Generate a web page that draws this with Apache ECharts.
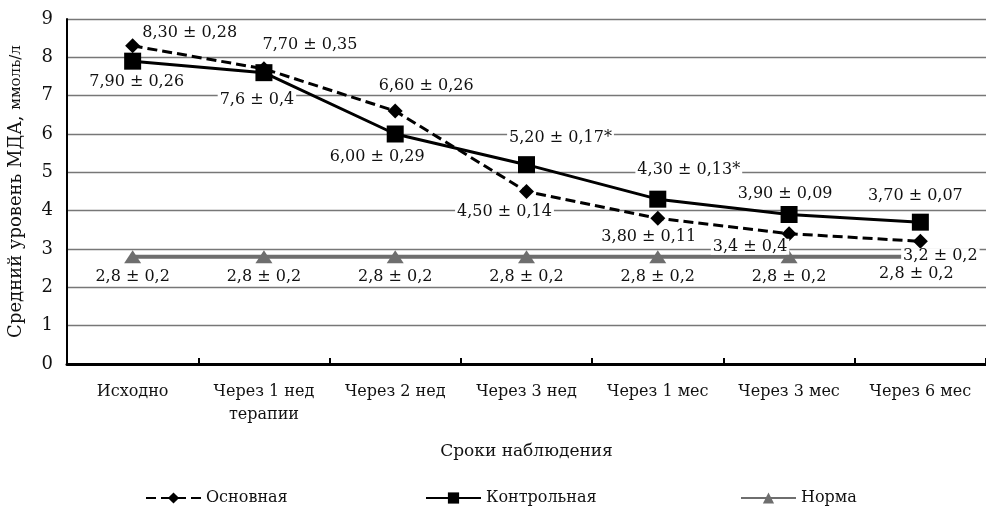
<!DOCTYPE html>
<html><head><meta charset="utf-8">
<script src="https://cdn.jsdelivr.net/npm/echarts@6/dist/echarts.min.js"></script>
<style>html,body{margin:0;padding:0;background:#fff}#c{width:986px;height:506px}</style>
</head><body><div id="c"></div>
<script>
const categories = ['Исходно', 'Через 1 нед\nтерапии', 'Через 2 нед', 'Через 3 нед', 'Через 1 мес', 'Через 3 мес', 'Через 6 мес'];
const mainValues = [8.30, 7.70, 6.60, 4.50, 3.80, 3.40, 3.20];
const controlValues = [7.90, 7.60, 6.00, 5.20, 4.30, 3.90, 3.70];
const normValues = [2.8, 2.8, 2.8, 2.8, 2.8, 2.8, 2.8];
const mainLabels = ['8,30 ± 0,28', '7,70 ± 0,35', '6,60 ± 0,26', '4,50 ± 0,14', '3,80 ± 0,11', '3,4 ± 0,4', '3,2 ± 0,2'];
const controlLabels = ['7,90 ± 0,26', '7,6 ± 0,4', '6,00 ± 0,29', '5,20 ± 0,17*', '4,30 ± 0,13*', '3,90 ± 0,09', '3,70 ± 0,07'];
const normLabels = ['2,8 ± 0,2', '2,8 ± 0,2', '2,8 ± 0,2', '2,8 ± 0,2', '2,8 ± 0,2', '2,8 ± 0,2', '2,8 ± 0,2'];
const yTicks = [0, 1, 2, 3, 4, 5, 6, 7, 8, 9];
const seriesNames = ['Основная', 'Контрольная', 'Норма'];

// label placement (style only)
const mainOffsets = [[57,-13],[46,-24],[31,-25],[-22,20],[-9,19],[-39,13],[20,15]];
const controlOffsets = [[4,21],[-7,27],[-18,23],[34,-27],[31,-29],[-4,-21],[-5,-26]];
const normOffsets = [[0,20],[0,20],[0,20],[0,20],[0,20],[0,20],[-4,17]];
const legendLefts = [140, 420, 735];

const FONT = '"DejaVu Serif", "Liberation Serif", serif';
const chart = echarts.init(document.getElementById('c'));

function mkData(vals, labels, offs) {
  return vals.map((v, i) => ({
    value: v,
    label: { formatter: labels[i], offset: offs[i] }
  }));
}
const labelBase = {
  show: true, position: 'inside', fontFamily: FONT, fontSize: 16, color: '#111',
  backgroundColor: '#fff', padding: [0, 2]
};

chart.setOption({
  animation: false,
  backgroundColor: '#fff',
  textStyle: { fontFamily: FONT },
  grid: { left: 67, right: 0, top: 19, bottom: 142, outerBoundsMode: 'none', containLabel: false },
  legend: seriesNames.map((n, i) => ({
    left: legendLefts[i], top: 485, itemWidth: 55, itemHeight: 14, itemGap: 0,
    textStyle: { fontFamily: FONT, fontSize: 16, color: '#111' },
    data: [n]
  })),
  xAxis: {
    type: 'category', data: categories, boundaryGap: true,
    name: 'Сроки наблюдения', nameLocation: 'middle', nameGap: 79,
    nameTextStyle: { fontFamily: FONT, fontSize: 17, color: '#111' },
    axisLine: { lineStyle: { color: '#000', width: 3 } },
    axisTick: { show: true, inside: true, length: 6, lineStyle: { color: '#000', width: 2 } },
    axisLabel: { interval: 0, fontFamily: FONT, fontSize: 16, color: '#111', margin: 16, lineHeight: 23 }
  },
  yAxis: {
    type: 'value', min: 0, max: 9, interval: 1,
    name: '{a|Средний уровень МДА, }{b|ммоль/л}', nameLocation: 'middle', nameGap: 42, nameRotate: 90,
    nameTextStyle: { rich: { a: { fontFamily: FONT, fontSize: 18, color: '#111' }, b: { fontFamily: FONT, fontSize: 15, color: '#111' } } },
    axisLine: { show: true, lineStyle: { color: '#000', width: 2 } },
    axisTick: { show: false },
    axisLabel: { fontFamily: FONT, fontSize: 18, color: '#111', margin: 14, formatter: v => yTicks.includes(v) ? String(v) : '' },
    splitLine: { lineStyle: { color: '#777', width: 1.3 } }
  },
  series: [
    {
      name: 'Норма', type: 'line', z: 2,
      data: mkData(normValues, normLabels, normOffsets),
      symbol: 'triangle', symbolSize: [17, 13],
      itemStyle: { color: '#6e6e6e' },
      lineStyle: { color: '#6e6e6e', width: 4 },
      label: labelBase
    },
    {
      name: 'Основная', type: 'line', z: 3,
      data: mkData(mainValues, mainLabels, mainOffsets),
      symbol: 'diamond', symbolSize: 15,
      itemStyle: { color: '#000' },
      lineStyle: { color: '#000', width: 3, type: [10, 5] },
      label: labelBase
    },
    {
      name: 'Контрольная', type: 'line', z: 4,
      data: mkData(controlValues, controlLabels, controlOffsets),
      symbol: 'rect', symbolSize: 17,
      itemStyle: { color: '#000' },
      lineStyle: { color: '#000', width: 3 },
      label: labelBase
    }
  ]
});
</script></body></html>
